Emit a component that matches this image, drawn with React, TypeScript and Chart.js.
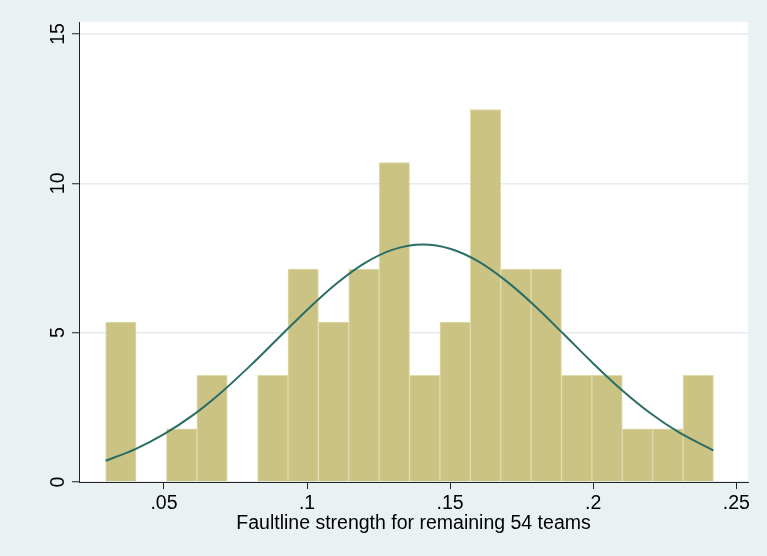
import React, { useEffect, useRef } from "react";
import { Chart, registerables } from "chart.js";

Chart.register(...registerables);

// Histogram bins (bin centres, width ≈ 0.0106) and density heights
const binCenters = [
  0.03493, 0.04555, 0.05617, 0.06679, 0.07741, 0.08803, 0.09865, 0.10927, 0.11989, 0.13051,
  0.14113, 0.15175, 0.16237, 0.17299, 0.18361, 0.19423, 0.20485, 0.21547, 0.22609, 0.23671,
];
const densities = [
  5.35, 0, 1.78, 3.57, 0, 3.57, 7.13, 5.35, 7.13, 10.69,
  3.57, 5.35, 12.47, 7.13, 7.13, 3.57, 3.57, 1.78, 1.78, 3.57,
];

// Normal density overlay
const curveX = [
  0.0296, 0.04, 0.05, 0.06, 0.07, 0.08, 0.09, 0.1, 0.11, 0.12, 0.13, 0.1405,
  0.15, 0.16, 0.17, 0.18, 0.19, 0.2, 0.21, 0.22, 0.23, 0.242,
];
const curveY = [
  0.71, 1.1, 1.6, 2.23, 3.0, 3.88, 4.82, 5.76, 6.62, 7.32, 7.78, 7.95,
  7.81, 7.38, 6.7, 5.86, 4.92, 3.97, 3.08, 2.3, 1.66, 1.06,
];

const xTicks = [0.05, 0.1, 0.15, 0.2, 0.25];
const yTicks = [0, 5, 10, 15];
const xTitle = "Faultline strength for remaining 54 teams";

const FONT = "'Liberation Sans', Arial, Helvetica, sans-serif";
const BG = "#e9f1f3";

const bgPlugin = {
  id: "bgPlugin",
  beforeDraw(chart: any) {
    const { ctx, chartArea } = chart;
    ctx.save();
    ctx.fillStyle = BG;
    ctx.fillRect(0, 0, chart.width, chart.height);
    ctx.fillStyle = "#ffffff";
    ctx.fillRect(chartArea.left, chartArea.top, chartArea.right - chartArea.left, chartArea.bottom - chartArea.top);
    ctx.restore();
  },
};

const yLabelPlugin = {
  id: "yLabelPlugin",
  afterDraw(chart: any) {
    const { ctx, chartArea } = chart;
    const y = chart.scales.y;
    ctx.save();
    ctx.fillStyle = "#000000";
    ctx.font = `19.5px ${FONT}`;
    ctx.textAlign = "center";
    ctx.textBaseline = "alphabetic";
    for (const t of y.ticks) {
      const py = y.getPixelForValue(t.value);
      ctx.save();
      ctx.translate(chartArea.left - 15, py);
      ctx.rotate(-Math.PI / 2);
      ctx.fillText(String(t.value), 0, 0);
      ctx.restore();
    }
    ctx.restore();
  },
};

export default function App() {
  const ref = useRef<HTMLCanvasElement | null>(null);
  useEffect(() => {
    if (!ref.current) return;
    const chart = new Chart(ref.current, {
      type: "bar",
      data: {
        datasets: [
          {
            type: "line",
            data: curveX.map((x, i) => ({ x, y: curveY[i] })),
            borderColor: "#2a6d66",
            borderWidth: 2,
            pointRadius: 0,
            cubicInterpolationMode: "monotone",
            fill: false,
            order: 0,
          } as any,
          {
            type: "bar",
            data: binCenters.map((x, i) => ({ x, y: densities[i] })),
            backgroundColor: "#cbc383",
            borderColor: "#e0dcaa",
            borderWidth: 1,
            borderSkipped: "bottom",
            barPercentage: 1,
            categoryPercentage: 1,
            grouped: false,
            order: 1,
          } as any,
        ],
      },
      options: {
        responsive: false,
        animation: false,
        events: [],
        layout: { padding: { top: 22, right: 19, left: 0, bottom: 0 } },
        plugins: { legend: { display: false }, tooltip: { enabled: false } },
        scales: {
          x: {
            type: "linear",
            offset: false,
            min: 0.0203,
            max: 0.2541,
            afterBuildTicks: (s: any) => {
              s.ticks = xTicks.map((v) => ({ value: v }));
            },
            afterFit: (s: any) => {
              s.height = 74;
            },
            ticks: {
              autoSkip: false,
              maxRotation: 0,
              minRotation: 0,
              color: "#000000",
              font: { family: FONT, size: 19.5 },
              padding: 3,
              callback: (v: any) => String(v).replace(/^0\./, "."),
            },
            grid: {
              offset: false,
              drawOnChartArea: false,
              tickLength: 7,
              tickColor: "#222222",
              tickWidth: 1,
            },
            border: { color: "#222222", width: 1 },
            title: {
              display: true,
              text: xTitle,
              color: "#000000",
              font: { family: FONT, size: 19.5 },
              padding: { top: 0, bottom: 21 },
            },
          },
          y: {
            type: "linear",
            min: 0,
            max: 15.4,
            afterBuildTicks: (s: any) => {
              s.ticks = yTicks.map((v) => ({ value: v }));
            },
            afterFit: (s: any) => {
              s.width = 79;
            },
            ticks: { color: "rgba(0,0,0,0)", font: { family: FONT, size: 18 } },
            grid: {
              color: "#e4ecf0",
              lineWidth: 1.5,
              tickLength: 7,
              tickColor: "#222222",
              tickWidth: 1,
            },
            border: { color: "#222222", width: 1 },
          },
        },
      },
      plugins: [bgPlugin, yLabelPlugin],
    });
    return () => chart.destroy();
  }, []);
  return (
    <div style={{ position: "fixed", left: 0, top: 0, width: 767, height: 556, background: BG }}>
      <canvas ref={ref} width={767} height={556} style={{ display: "block" }} />
    </div>
  );
}
